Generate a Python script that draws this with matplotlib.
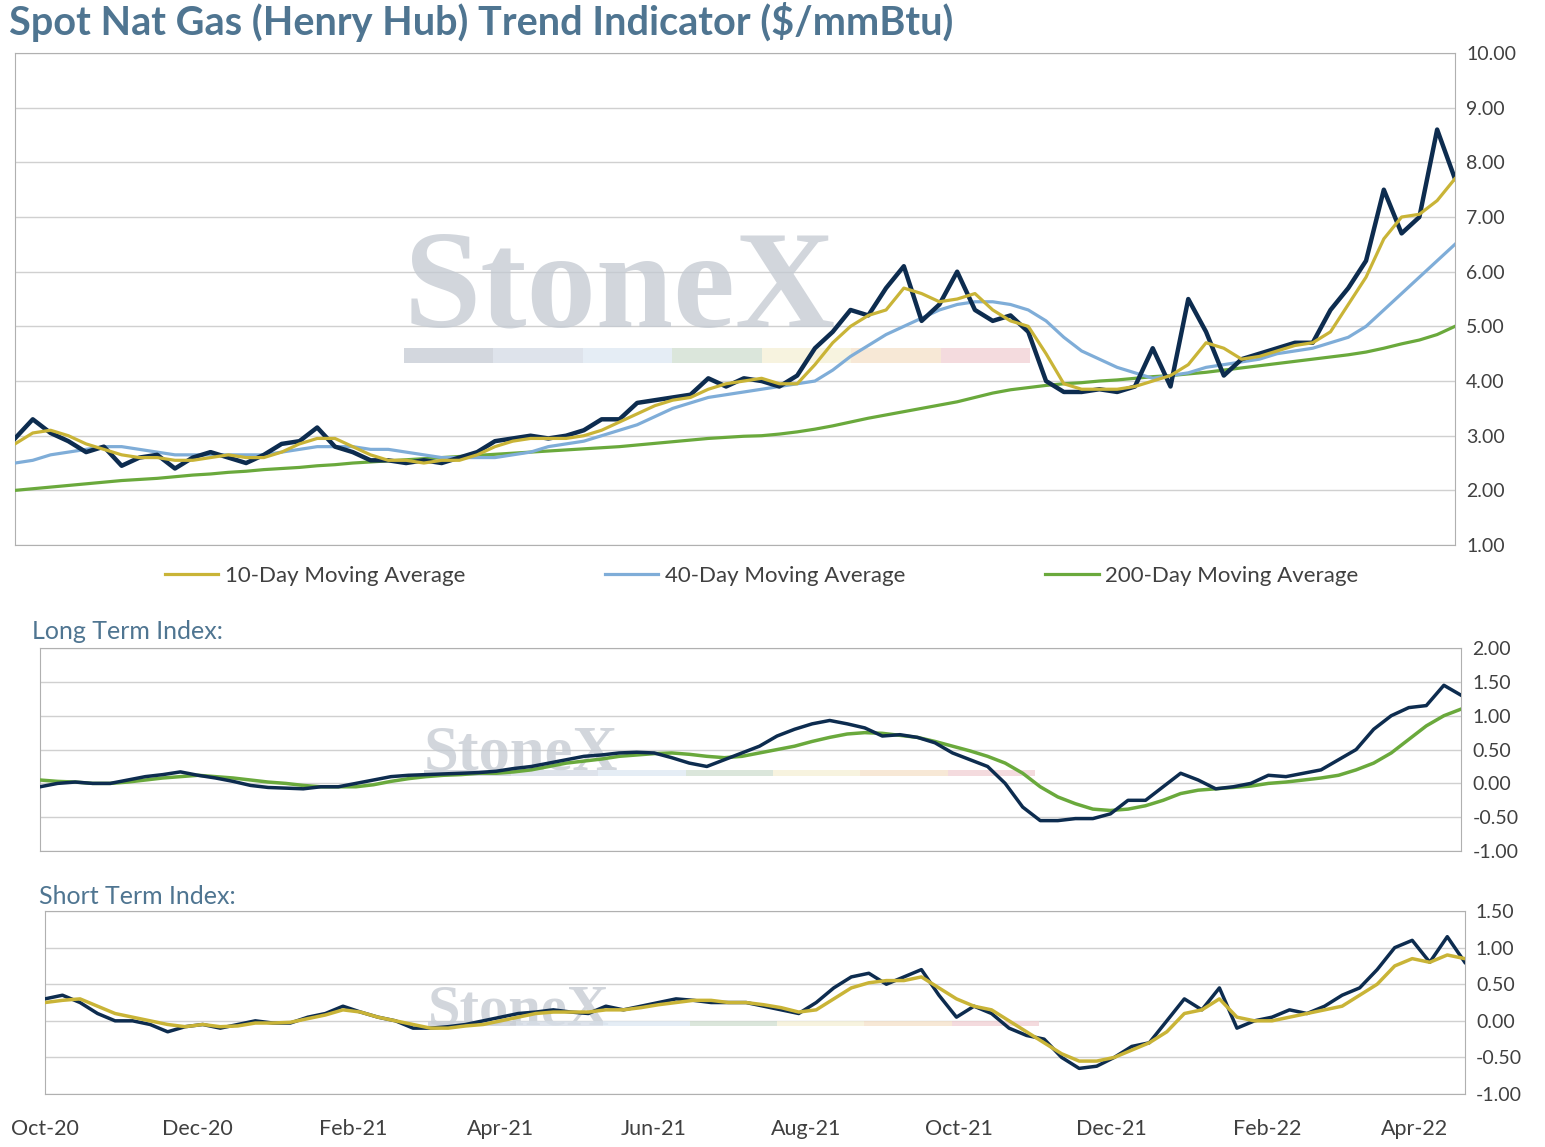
import numpy as np
import pandas as pd
import matplotlib
matplotlib.use("Agg")
import matplotlib.pyplot as plt
import matplotlib.dates as mdates
from matplotlib.patches import Rectangle

plt.rcParams['font.family'] = ['Lato', 'DejaVu Sans']

dates = pd.date_range("2020-10-01", periods=82, freq="7D")

spot = [2.95,3.3,3.05,2.9,2.7,2.8,2.45,2.6,2.65,2.4,
        2.6,2.7,2.6,2.5,2.65,2.85,2.9,3.15,2.8,2.7,
        2.55,2.55,2.5,2.55,2.5,2.6,2.7,2.9,2.95,3.0,
        2.95,3.0,3.1,3.3,3.3,3.6,3.65,3.7,3.75,4.05,
        3.9,4.05,4.0,3.9,4.1,4.6,4.9,5.3,5.2,5.7,
        6.1,5.1,5.4,6.0,5.3,5.1,5.2,4.9,4.0,3.8,
        3.8,3.85,3.8,3.9,4.6,3.9,5.5,4.9,4.1,4.4,
        4.5,4.6,4.7,4.7,5.3,5.7,6.2,7.5,6.7,7.0,
        8.6,7.7]
ma10 = [2.85,3.05,3.1,3.0,2.85,2.75,2.65,2.6,2.6,2.55,
        2.55,2.6,2.65,2.6,2.6,2.7,2.85,2.95,2.95,2.8,
        2.65,2.55,2.55,2.5,2.55,2.55,2.65,2.8,2.9,2.95,
        2.95,2.95,3.0,3.1,3.25,3.4,3.55,3.65,3.7,3.85,
        3.95,4.0,4.05,3.95,3.95,4.3,4.7,5.0,5.2,5.3,
        5.7,5.6,5.45,5.5,5.6,5.3,5.1,5.0,4.5,3.95,
        3.85,3.85,3.85,3.9,4.0,4.1,4.3,4.7,4.6,4.4,
        4.45,4.55,4.65,4.7,4.9,5.4,5.9,6.6,7.0,7.05,
        7.3,7.7]
ma40 = [2.5,2.55,2.65,2.7,2.75,2.8,2.8,2.75,2.7,2.65,
        2.65,2.65,2.65,2.65,2.65,2.7,2.75,2.8,2.8,2.8,
        2.75,2.75,2.7,2.65,2.6,2.6,2.6,2.6,2.65,2.7,
        2.8,2.85,2.9,3.0,3.1,3.2,3.35,3.5,3.6,3.7,
        3.75,3.8,3.85,3.9,3.95,4.0,4.2,4.45,4.65,4.85,
        5.0,5.15,5.3,5.4,5.45,5.45,5.4,5.3,5.1,4.8,
        4.55,4.4,4.25,4.15,4.05,4.1,4.15,4.25,4.3,4.35,
        4.4,4.5,4.55,4.6,4.7,4.8,5.0,5.3,5.6,5.9,
        6.2,6.5]
ma200 = [2.0,2.03,2.06,2.09,2.12,2.15,2.18,2.2,2.22,2.25,
         2.28,2.3,2.33,2.35,2.38,2.4,2.42,2.45,2.47,2.5,
         2.52,2.54,2.56,2.58,2.6,2.62,2.64,2.66,2.68,2.7,
         2.72,2.74,2.76,2.78,2.8,2.83,2.86,2.89,2.92,2.95,
         2.97,2.99,3.0,3.03,3.07,3.12,3.18,3.25,3.32,3.38,
         3.44,3.5,3.56,3.62,3.7,3.78,3.84,3.88,3.92,3.95,
         3.97,4.0,4.02,4.05,4.08,4.1,4.13,4.16,4.2,4.24,
         4.28,4.32,4.36,4.4,4.44,4.48,4.53,4.6,4.68,4.75,
         4.85,5.0]
lt_navy = [-0.05,0.0,0.02,0.0,0.0,0.05,0.1,0.13,0.17,0.12,
           0.08,0.03,-0.03,-0.06,-0.07,-0.08,-0.05,-0.05,0.0,0.05,
           0.1,0.12,0.13,0.14,0.15,0.16,0.18,0.22,0.25,0.3,
           0.35,0.4,0.42,0.45,0.46,0.45,0.38,0.3,0.25,0.35,
           0.45,0.55,0.7,0.8,0.88,0.93,0.88,0.82,0.7,0.72,
           0.68,0.6,0.45,0.35,0.25,0.0,-0.35,-0.55,-0.55,-0.52,
           -0.52,-0.45,-0.25,-0.25,-0.05,0.15,0.05,-0.08,-0.05,0.0,
           0.12,0.1,0.15,0.2,0.35,0.5,0.8,1.0,1.12,1.15,
           1.45,1.3]
lt_green = [0.05,0.03,0.02,0.0,0.0,0.02,0.05,0.08,0.1,0.12,
            0.1,0.08,0.05,0.02,0.0,-0.03,-0.05,-0.05,-0.05,-0.02,
            0.03,0.07,0.1,0.12,0.13,0.15,0.15,0.17,0.2,0.25,
            0.3,0.33,0.36,0.4,0.42,0.44,0.45,0.43,0.4,0.38,
            0.4,0.45,0.5,0.55,0.62,0.68,0.73,0.75,0.74,0.71,
            0.68,0.62,0.55,0.48,0.4,0.3,0.15,-0.05,-0.2,-0.3,
            -0.38,-0.4,-0.38,-0.33,-0.25,-0.15,-0.1,-0.08,-0.06,-0.04,
            0.0,0.02,0.05,0.08,0.12,0.2,0.3,0.45,0.65,0.85,
            1.0,1.1]
st_navy = [0.3,0.35,0.25,0.1,0.0,0.0,-0.05,-0.15,-0.08,-0.05,
           -0.1,-0.05,0.0,-0.03,-0.03,0.05,0.1,0.2,0.12,0.05,
           0.0,-0.1,-0.1,-0.08,-0.05,0.0,0.05,0.1,0.12,0.15,
           0.12,0.1,0.2,0.15,0.2,0.25,0.3,0.28,0.25,0.25,
           0.25,0.2,0.15,0.1,0.25,0.45,0.6,0.65,0.5,0.6,
           0.7,0.35,0.05,0.2,0.1,-0.1,-0.2,-0.25,-0.5,-0.65,
           -0.62,-0.5,-0.35,-0.3,0.0,0.3,0.15,0.45,-0.1,0.0,
           0.05,0.15,0.1,0.2,0.35,0.45,0.7,1.0,1.1,0.8,
           1.15,0.8]
st_gold = [0.25,0.28,0.3,0.2,0.1,0.05,0.0,-0.05,-0.08,-0.05,
           -0.08,-0.07,-0.03,-0.03,-0.02,0.03,0.08,0.15,0.12,0.05,
           0.0,-0.05,-0.1,-0.1,-0.07,-0.05,0.0,0.05,0.1,0.12,
           0.12,0.12,0.15,0.15,0.18,0.22,0.25,0.28,0.28,0.25,
           0.25,0.22,0.18,0.12,0.15,0.3,0.45,0.52,0.55,0.55,
           0.6,0.45,0.3,0.2,0.15,0.0,-0.15,-0.3,-0.45,-0.55,
           -0.55,-0.5,-0.4,-0.3,-0.15,0.1,0.15,0.3,0.05,0.0,
           0.0,0.05,0.1,0.15,0.2,0.35,0.5,0.75,0.85,0.8,
           0.9,0.85]

NAVY = "#0d2c4f"; GOLD = "#c9b437"; LBLUE = "#7fadd8"; GREEN = "#6aa93c"
TITLE_C = "#4f7591"; GRID = "#d0d0d0"; TXT = "#404040"

fig = plt.figure(figsize=(15.45, 11.47), dpi=100)
ax1 = fig.add_axes([0.0097, 0.5248, 0.932, 0.429])
ax2 = fig.add_axes([0.0259, 0.258, 0.920, 0.177])
ax3 = fig.add_axes([0.0291, 0.0462, 0.919, 0.1595])

strip_cols = ["#c9ced6", "#d6dde6", "#dfe9f3", "#d3e0d3", "#f5f1d8", "#f6e3cc", "#f2d2d6"]

def watermark(ax, x0, x1, ty, fs, sy, sh):
    ax.text(x0, ty, "StoneX", transform=ax.transAxes, fontsize=fs, family="Liberation Serif",
            fontweight="bold", color="#c3c9d1", alpha=0.75, ha="left", va="baseline", zorder=1)
    w = (x1 - x0) / len(strip_cols)
    for k, c in enumerate(strip_cols):
        ax.add_patch(Rectangle((x0 + k * w, sy), w, sh, transform=ax.transAxes,
                               color=c, alpha=0.8, lw=0, zorder=1))

def style(ax, lo, hi, step, fmt="{:.2f}"):
    ax.set_xlim(dates[0], dates[-1])
    ax.set_ylim(lo, hi)
    ticks = np.arange(lo, hi + step / 2, step)
    ax.set_yticks(ticks)
    ax.set_yticklabels([fmt.format(t) for t in ticks])
    ax.yaxis.tick_right()
    ax.tick_params(axis="y", length=0, labelsize=14, labelcolor=TXT, pad=8)
    ax.grid(axis="y", color=GRID, lw=1)
    ax.set_axisbelow(True)
    for s in ax.spines.values():
        s.set_color("#b0b0b0")
    ax.xaxis.set_major_locator(mdates.MonthLocator(bymonth=[2, 4, 6, 8, 10, 12]))
    ax.tick_params(axis="x", length=0)

style(ax1, 1, 10, 1)
ax1.set_xticklabels([])
watermark(ax1, 0.27, 0.705, 0.445, 100, 0.37, 0.03)
ax1.plot(dates, ma200, color=GREEN, lw=2.3, zorder=3, label="200-Day Moving Average")
ax1.plot(dates, ma40, color=LBLUE, lw=2.3, zorder=3, label="40-Day Moving Average")
ax1.plot(dates, spot, color=NAVY, lw=3.2, zorder=4)
ax1.plot(dates, ma10, color=GOLD, lw=2.3, zorder=5, label="10-Day Moving Average")
h, l = ax1.get_legend_handles_labels()
order = [2, 1, 0]
fig.legend([h[i] for i in order], [l[i] for i in order], loc="center", bbox_to_anchor=(0.493, 0.498),
           ncol=3, frameon=False, fontsize=16, columnspacing=6.3, handlelength=2.4,
           handletextpad=0.3, labelcolor=TXT)
fig.text(0.006, 0.981, "Spot Nat Gas (Henry Hub) Trend Indicator ($/mmBtu)", fontsize=28.5,
         fontweight="bold", color=TITLE_C, va="center")

style(ax2, -1, 2, 0.5)
ax2.set_xticklabels([])
watermark(ax2, 0.27, 0.70, 0.4, 45, 0.37, 0.03)
ax2.plot(dates, lt_green, color=GREEN, lw=2.5, zorder=3)
ax2.plot(dates, lt_navy, color=NAVY, lw=2.5, zorder=4)
fig.text(0.021, 0.449, "Long Term Index:", fontsize=18, color=TITLE_C, va="center")

style(ax3, -1, 1.5, 0.5)
watermark(ax3, 0.27, 0.70, 0.38, 42, 0.37, 0.03)
ax3.plot(dates, st_navy, color=NAVY, lw=2.5, zorder=4)
ax3.plot(dates, st_gold, color=GOLD, lw=2.5, zorder=5)
ax3.xaxis.set_major_formatter(mdates.DateFormatter("%b-%y"))
ax3.tick_params(axis="x", labelsize=15.5, labelcolor=TXT, pad=18)
fig.text(0.025, 0.218, "Short Term Index:", fontsize=18, color=TITLE_C, va="center")

fig.savefig("out.png", dpi=100, facecolor="white")
